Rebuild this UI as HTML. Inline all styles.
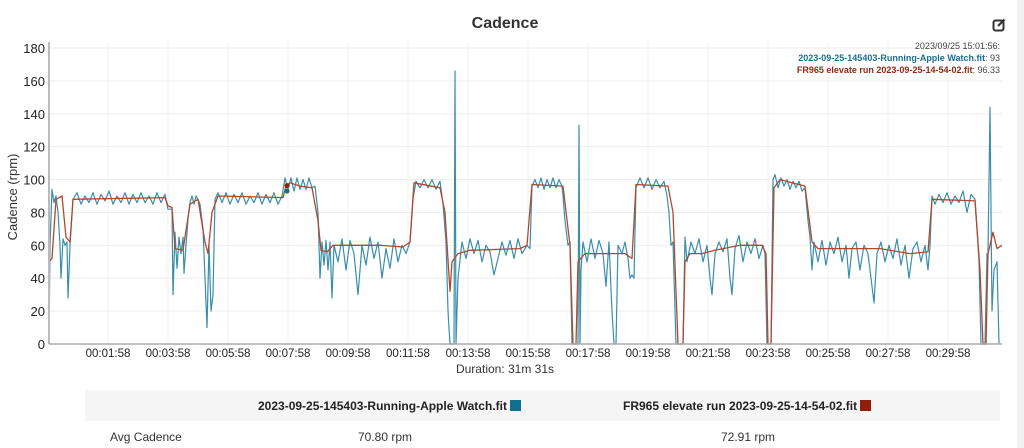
<!DOCTYPE html>
<html><head><meta charset="utf-8"><style>
body{margin:0;width:1024px;height:448px;background:#fff;font-family:"Liberation Sans",sans-serif;overflow:hidden;position:relative}
.t{position:absolute;white-space:nowrap}
</style></head><body>
<div class="t" style="left:0;width:1010px;top:15px;text-align:center;font-size:16px;font-weight:bold;color:#333">Cadence</div>
<svg style="position:absolute;left:992px;top:18px" width="14" height="14" viewBox="0 0 14 14"><rect x="1.5" y="2.5" width="10" height="10" rx="2" fill="none" stroke="#333" stroke-width="2"/><path d="M6 8 L12.5 1.5" stroke="#333" stroke-width="2.2"/></svg>
<div style="position:absolute;left:1017px;top:0;width:7px;height:448px;background:#f2f2f2"></div>
<svg id="chart" style="position:absolute;left:0;top:0" width="1024" height="390"></svg>
<div class="t" style="right:24px;top:41px;font-size:9px;color:#444">2023/09/25 15:01:56:</div>
<div class="t" style="right:24px;top:53px;font-size:9px;color:#444"><b style="color:#1a7191">2023-09-25-145403-Running-Apple Watch.fit</b>: 93</div>
<div class="t" style="right:24px;top:65px;font-size:9px;color:#444"><b style="color:#8f2a14">FR965 elevate run 2023-09-25-14-54-02.fit</b>: 96.33</div>
<div style="position:absolute;left:85px;top:390px;width:915px;height:31px;background:#f5f5f5"></div>
<div class="t" style="left:258px;top:399px;font-size:12px;font-weight:bold;color:#222">2023-09-25-145403-Running-Apple Watch.fit <span style="display:inline-block;width:11px;height:11px;background:#126f8e;vertical-align:-1px"></span></div>
<div class="t" style="left:623px;top:399px;font-size:12px;font-weight:bold;color:#222">FR965 elevate run 2023-09-25-14-54-02.fit <span style="display:inline-block;width:11px;height:11px;background:#8f1f0a;vertical-align:-1px"></span></div>
<div class="t" style="left:110px;top:430px;font-size:12px;color:#333">Avg Cadence</div>
<div class="t" style="left:330px;width:110px;text-align:center;top:430px;font-size:12px;color:#333">70.80 rpm</div>
<div class="t" style="left:693px;width:110px;text-align:center;top:430px;font-size:12px;color:#333">72.91 rpm</div>
<script>
const yTicks=[0,20,40,60,80,100,120,140,160,180];
const xTickSeconds=[118,238,358,478,598,718,838,958,1078,1198,1318,1438,1558,1678,1798];
const xTickLabels=["00:01:58","00:03:58","00:05:58","00:07:58","00:09:58","00:11:58","00:13:58","00:15:58","00:17:58","00:19:58","00:21:58","00:23:58","00:25:58","00:27:58","00:29:58"];
const appleTimes=[0,2,6,10,14,18,22,24,28,32,36,38,42,48,
56,64,72,80,88,96,104,112,120,128,136,144,152,160,168,176,184,192,200,208,216,224,232,
238,246,248,252,256,260,264,268,270,274,278,282,286,290,294,298,302,308,312,316,320,324,328,332,338,
346,354,362,370,378,386,394,402,410,418,426,434,442,450,458,466,
472,478,484,490,496,502,508,514,520,526,532,538,542,546,550,554,558,562,566,570,
578,586,594,602,610,618,626,634,642,650,658,666,674,682,690,698,706,714,722,
728,734,742,750,758,766,774,782,788,794,798,802,806,810,812,814,818,
826,834,842,850,858,866,874,882,890,898,906,914,922,930,938,946,956,
962,966,972,978,984,990,996,1002,1008,1014,1020,1026,
1028,1032,1038,1042,1046,1052,1058,1060,1062,1064,1068,1076,1084,1092,1100,1108,1114,1120,1126,1130,1134,1138,1146,1152,1158,1162,1166,
1170,1174,1182,1190,1198,1206,1214,1222,1230,1236,1240,1244,1248,1254,1262,1268,1272,1276,
1284,1292,1300,1308,1316,1322,1326,1332,1340,1348,1356,1362,1366,1372,1380,1388,1396,1404,1412,1420,1428,
1432,1436,1444,1448,1452,1458,1464,1470,1476,1482,1488,1494,1500,1506,1512,1518,1522,1526,1530,
1538,1546,1554,1562,1570,1578,1586,1594,1600,1606,1614,1622,1630,1638,1644,1650,1656,1664,1672,1680,1688,1696,1704,1712,1720,1728,1736,1744,1752,1758,
1762,1766,1772,1780,1788,1796,1804,1812,1820,1828,1836,1844,1852,
1856,1860,1864,1872,1876,1878,1882,1886,1890,1896,1900];
const appleValues=[0,60,94,86,90,80,60,40,64,60,62,28,60,88,
92,85,90,86,92,85,91,87,93,85,90,86,92,85,91,86,92,86,90,85,92,86,91,
82,82,30,68,46,65,55,65,43,60,76,86,90,85,90,88,85,70,40,10,60,20,30,88,92,
86,92,85,91,86,92,85,90,86,92,85,91,86,92,85,90,
101,94,101,93,101,94,100,94,101,95,96,80,40,62,48,63,45,62,28,60,
50,64,45,63,55,30,60,48,65,52,62,40,58,46,64,50,60,55,62,
88,99,95,100,95,100,94,99,85,62,20,0,0,0,166,0,40,
62,52,64,55,63,50,60,56,42,52,62,54,63,52,64,55,60,
58,96,100,95,101,94,100,95,101,95,100,96,
90,75,60,62,0,0,0,133,0,45,62,50,64,52,63,55,35,62,20,0,0,60,55,62,52,40,42,
40,95,101,95,101,94,100,95,99,90,80,60,62,0,0,0,65,50,
62,55,64,50,60,40,30,55,62,56,64,40,30,58,66,50,62,55,64,52,60,
55,0,0,100,103,95,101,96,100,94,99,95,99,93,95,75,65,45,62,
50,63,48,62,55,65,50,60,40,58,62,45,60,55,40,25,55,62,50,60,52,64,48,60,40,58,62,50,60,45,
60,90,85,91,86,92,85,90,86,93,80,91,88,
70,50,0,0,55,55,144,20,45,50,0];
const frTimes=[0,6,14,26,34,42,48,232,238,246,252,268,282,298,312,318,326,338,468,474,482,502,526,538,544,556,568,662,708,722,730,782,792,802,806,818,842,942,956,966,1028,1042,1048,1054,1058,1072,1102,1152,1166,1174,1238,1248,1258,1268,1272,1282,1306,1332,1382,1426,1434,1438,1444,1450,1462,1512,1526,1538,1562,1662,1722,1758,1766,1852,1862,1868,1874,1878,1888,1896,1906];
const frValues=[50,52,88,90,65,62,88,89,84,83,58,57,85,88,62,55,80,90,89,96,98,96,95,75,57,56,60,60,59,62,98,95,80,32,50,55,57,58,60,97,96,60,0,0,50,55,55,55,52,97,96,80,0,0,50,55,55,57,60,60,55,0,0,95,100,96,62,58,58,58,55,56,88,87,45,0,0,55,68,58,60];
const hoverT=476, hoverApple=93, hoverFr=96.33;

const NS="http://www.w3.org/2000/svg";
const svg=document.getElementById('chart');
const X0=49,X1=1002,Y0=344,Y1=48,TMAX=1906,VMAX=180;
const xs=t=>X0+(t/TMAX)*(X1-X0);
const ys=v=>Y0-(v/VMAX)*(Y0-Y1);
function mk(tag,a){const e=document.createElementNS(NS,tag);for(const k in a)e.setAttribute(k,a[k]);svg.appendChild(e);return e;}
yTicks.forEach(v=>{
  const g=mk('line',{x1:X0,x2:X1,y1:ys(v),y2:ys(v),stroke:'#eee','stroke-width':1});
  
  
  const t=mk('text',{x:45,y:ys(v)+5,'text-anchor':'end','font-size':13,fill:'#222','font-family':'Liberation Sans, sans-serif'});
  t.textContent=v;
  
  
});
xTickSeconds.forEach((s,i)=>{
  const g=mk('line',{x1:xs(s),x2:xs(s),y1:Y1-6,y2:Y0,stroke:'#f0f0f0','stroke-width':1});
  
  
  const t=mk('text',{x:xs(s),y:357,'text-anchor':'middle','font-size':11.5,fill:'#222','font-family':'Liberation Sans, sans-serif'});
  t.textContent=xTickLabels[i];
  
  
});
const xl=mk('text',{x:505,y:373,'text-anchor':'middle','font-size':12,fill:'#333','font-family':'Liberation Sans, sans-serif'});
xl.textContent='Duration: 31m 31s';


const yl=mk('text',{x:0,y:0,transform:'translate(17,197) rotate(-90)','text-anchor':'middle','font-size':13,fill:'#333','font-family':'Liberation Sans, sans-serif'});
yl.textContent='Cadence (rpm)';


function path(ts,vs,color,w,name){
  let d='';ts.forEach((t,i)=>{d+=(i?'L':'M')+xs(t).toFixed(1)+','+ys(vs[i]).toFixed(1);});
  const p=mk('path',{d:d,fill:'none',stroke:color,'stroke-width':w,'stroke-linejoin':'round'});
  
  
}
path(appleTimes,appleValues,'#3a8eab',1.2,'apple-watch-line');
path(frTimes,frValues,'#b0492c',1.3,'fr965-line');
const ax=mk('line',{x1:X0,x2:X0,y1:Y1-6,y2:Y0,stroke:'#bbb','stroke-width':2});


const bx=mk('line',{x1:X0,x2:X1,y1:Y0,y2:Y0,stroke:'#aaa','stroke-width':1.5});


const m1=mk('circle',{cx:xs(hoverT),cy:ys(hoverApple),r:2.5,fill:'#126f8e'});


const m2=mk('circle',{cx:xs(hoverT),cy:ys(hoverFr),r:2.5,fill:'#8f1f0a'});


</script>
</body></html>
